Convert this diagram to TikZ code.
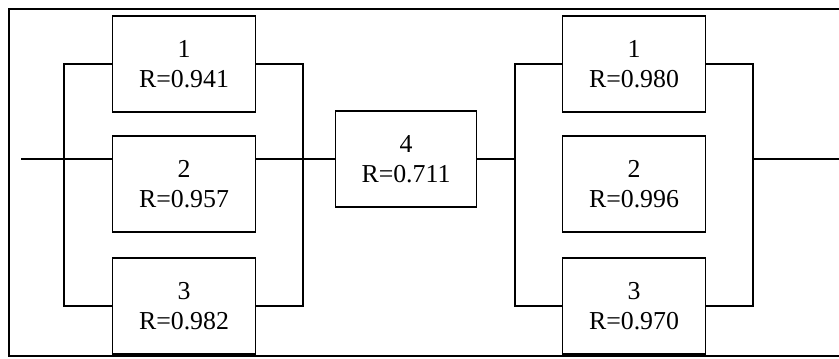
\documentclass[tikz,border=0pt]{standalone}
\usepackage{fontspec}
\setmainfont{Liberation Serif}

\tikzset{
  blk/.style={draw,line width=0.7pt,minimum width=66.4pt,minimum height=44.6pt,
    inner sep=0pt,align=center,font=\fontsize{12}{14}\selectfont},
  wire/.style={line width=0.6pt}
}

\begin{document}
\begin{tikzpicture}[x=0.4645pt,y=-0.4645pt]

\useasboundingbox (0,0) rectangle (839,358);
% frame, open on the right
\draw[line width=0.7pt] (839,9) -- (9,9) -- (9,356) -- (839,356);

% first parallel group
\node[blk] (L1) at (184,64)  {1\\R=0.941};
\node[blk] (L2) at (184,184) {2\\R=0.957};
\node[blk] (L3) at (184,306) {3\\R=0.982};

% series unit
\node[blk,minimum width=65.5pt] (U4) at (406,159) {4\\R=0.711};

% second parallel group
\node[blk] (R1) at (634,64)  {1\\R=0.980};
\node[blk] (R2) at (634,184) {2\\R=0.996};
\node[blk] (R3) at (634,306) {3\\R=0.970};

\coordinate (in)  at (21,159);
\coordinate (out) at (839,159);
\coordinate (lb1) at (64,0);
\coordinate (rb1) at (303,0);
\coordinate (lb2) at (515,0);
\coordinate (rb2) at (753,0);

\draw[wire] (in) -- (in -| L2.west);
\draw[wire] (L1.west) -- (L1.west -| lb1) -- (L3.west -| lb1) -- (L3.west);
\draw[wire] (L1.east) -- (L1.east -| rb1) -- (L3.east -| rb1) -- (L3.east);
\draw[wire] (U4.west -| L2.east) -- (U4.west);

\draw[wire] (U4.east) -- (U4.east -| lb2);
\draw[wire] (R1.west) -- (R1.west -| lb2) -- (R3.west -| lb2) -- (R3.west);
\draw[wire] (R1.east) -- (R1.east -| rb2) -- (R3.east -| rb2) -- (R3.east);
\draw[wire] (out -| rb2) -- (out);

\end{tikzpicture}
\end{document}
